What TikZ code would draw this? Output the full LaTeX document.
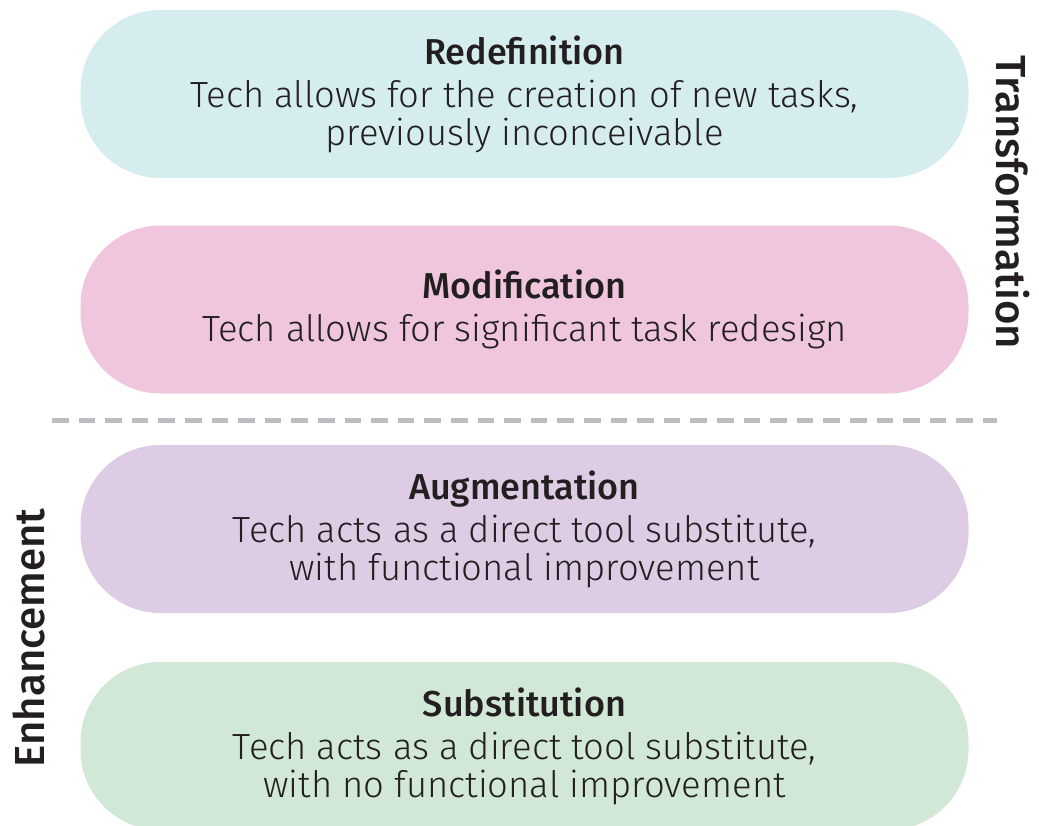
\documentclass[tikz,border=0pt]{standalone}
\usepackage{fontspec}
\setmainfont{Fira Sans Light}
\newfontfamily\headfont{Fira Sans Medium}

\definecolor{ink}{HTML}{231F20}
\definecolor{redefcol}{HTML}{D5EDEF}
\definecolor{modifcol}{HTML}{EFC6DD}
\definecolor{augmcol}{HTML}{DDCCE3}
\definecolor{substcol}{HTML}{D0E8D5}
\definecolor{cutcol}{HTML}{BCBDC1}

\tikzset{
	tier/.style={minimum width=444pt, minimum height=84pt, rounded corners=40pt,
		inner sep=0pt, align=center, text=ink, font=\fontsize{18.2}{19}\selectfont},
	side/.style={text=ink, font=\headfont\fontsize{21}{21}\selectfont},
	divider/.style={cutcol, line width=2.5pt, dash pattern=on 8.3pt off 5pt}
}
\newcommand\tiername[1]{{\headfont\fontsize{18}{19}\selectfont #1}\\[2.5pt]}

\begin{document}
\begin{tikzpicture}[x=0.5pt,y=-0.5pt]
	\useasboundingbox (0,0) rectangle (1039,825);
	% the four levels, top to bottom
	\node[tier,fill=redefcol] (redef) at (524.5,94) {\tiername{Redefinition}Tech allows for the creation of new tasks,\\previously inconceivable};
	\node[tier,fill=modifcol] (modif) at (524.5,309.5) {\tiername{Modification}Tech allows for significant task redesign};
	\node[tier,fill=augmcol] (augm) at (524.5,529) {\tiername{Augmentation}Tech acts as a direct tool substitute,\\with functional improvement};
	\node[tier,fill=substcol] (subst) at (524.5,746) {\tiername{Substitution}Tech acts as a direct tool substitute,\\with no functional improvement};
	
	\coordinate (cutW) at (52,420); \coordinate (cutE) at (997,420);
	\draw[divider] (cutW) -- (cutE);
	
	\node[side,rotate=-90] (trans) at (1013,202) {Transformation};
	\node[side,rotate=90] (enh) at (29,638) {Enhancement};
\end{tikzpicture}
\end{document}
